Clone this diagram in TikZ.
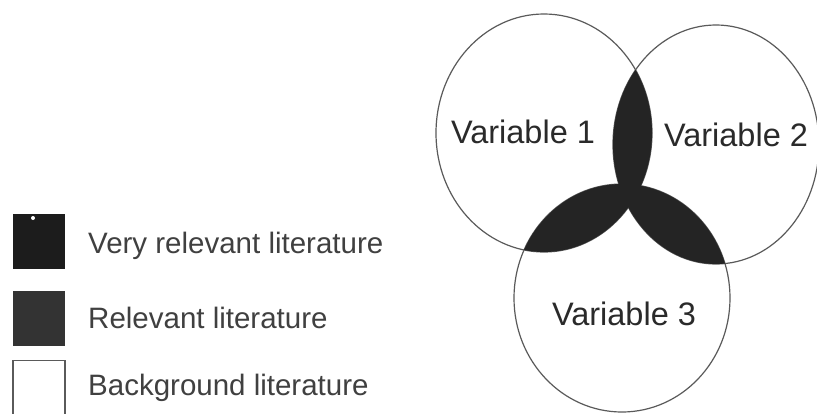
\documentclass[tikz,border=0pt]{standalone}
\usepackage{fontspec}
\setmainfont{Liberation Sans}
\definecolor{lensc}{HTML}{242424}
\definecolor{ringc}{HTML}{5A5A5A}
\definecolor{txtc}{HTML}{2A2A2A}
\definecolor{legc}{HTML}{404040}
\definecolor{boxa}{HTML}{1C1C1C}
\definecolor{boxb}{HTML}{333333}
\tikzset{
  ring/.style={draw=ringc, line width=1.2pt},
  vartext/.style={anchor=base, inner sep=0pt, text=txtc, font=\fontsize{32.5}{32.5}\selectfont},
  legtext/.style={anchor=base west, inner sep=0pt, text=legc, font=\fontsize{29.5}{29.5}\selectfont},
  legbox/.style={minimum width=52pt, minimum height=55pt, inner sep=0pt}
}
\begin{document}
\begin{tikzpicture}[x=1pt,y=-1pt]
\useasboundingbox (0,0) rectangle (817,413);
\clip (0,0) rectangle (817,413);
\fill[white] (0,0) rectangle (817,413);
\def\cA{(544,133) ellipse [x radius=108, y radius=119]}
\def\cB{(716,144.5) ellipse [x radius=103, y radius=119.5]}
\def\cC{(622,298) ellipse [x radius=108, y radius=114]}
% outlines
\draw[ring] \cA;
\draw[ring] \cB;
\draw[ring] \cC;
% overlaps
\begin{scope}
  \clip \cA;
  \fill[lensc] \cB;
  \fill[lensc] \cC;
\end{scope}
\begin{scope}
  \clip \cB;
  \fill[lensc] \cC;
\end{scope}
% labels
\node[vartext] (v1) at (523,143) {Variable 1};
\node[vartext] (v2) at (736,146) {Variable 2};
\node[vartext] (v3) at (624,325) {Variable 3};
% legend
\node[legbox, fill=boxa] (b1) at (39,241) {};
\fill[white] (33,218) circle (2pt);
\node[legbox, fill=boxb] (b2) at (39,318) {};
\node[legbox, draw=ringc, line width=1.2pt, fill=white] (b3) at (39,388) {};
\node[legtext] (l1) at (88,253) {Very relevant literature};
\node[legtext] (l2) at (88,328) {Relevant literature};
\node[legtext] (l3) at (88,395) {Background literature};
\end{tikzpicture}
\end{document}
